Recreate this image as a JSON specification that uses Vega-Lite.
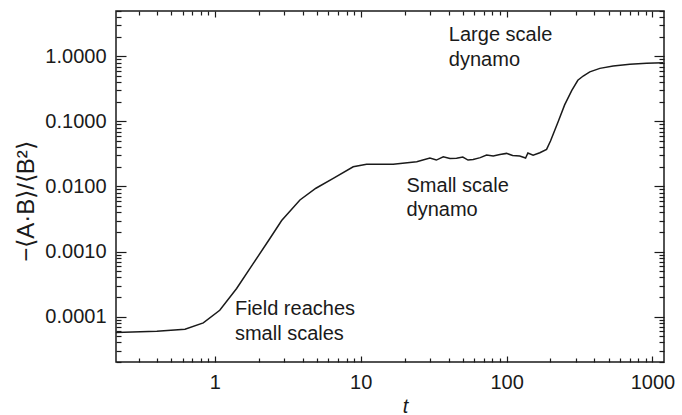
{
  "$schema": "https://vega.github.io/schema/vega-lite/v6.json",
  "width": 548,
  "height": 351,
  "autosize": {"type": "none"},
  "padding": {"left": 116, "top": 11, "right": 18, "bottom": 53},
  "config": {
    "view": {"stroke": "#1a1a1a", "strokeWidth": 1.5},
    "axis": {
      "labelFont": "Liberation Sans",
      "labelFontSize": 20,
      "labelColor": "#1a1a1a",
      "titleFont": "Liberation Sans",
      "titleFontSize": 20,
      "titleColor": "#1a1a1a",
      "titleFontWeight": "normal"
    }
  },
  "datasets": {
    "curve": [
      {"t": 0.21, "v": 0.000057},
      {"t": 0.4, "v": 0.0000596},
      {"t": 0.624, "v": 0.000064},
      {"t": 0.833, "v": 0.00008},
      {"t": 1.08, "v": 0.000125},
      {"t": 1.41, "v": 0.00027},
      {"t": 1.83, "v": 0.00065},
      {"t": 2.39, "v": 0.0016},
      {"t": 2.87, "v": 0.003},
      {"t": 3.83, "v": 0.0062},
      {"t": 4.93, "v": 0.0094},
      {"t": 6.48, "v": 0.0133},
      {"t": 8.88, "v": 0.0201},
      {"t": 10.97, "v": 0.0219},
      {"t": 16.7, "v": 0.0219},
      {"t": 24.2, "v": 0.024},
      {"t": 29.8, "v": 0.0274},
      {"t": 33, "v": 0.0255},
      {"t": 36.8, "v": 0.0286},
      {"t": 40.9, "v": 0.0269},
      {"t": 45.4, "v": 0.0271},
      {"t": 50.1, "v": 0.0283},
      {"t": 54.4, "v": 0.0255},
      {"t": 59, "v": 0.0261},
      {"t": 66, "v": 0.0278},
      {"t": 72.9, "v": 0.0304},
      {"t": 81, "v": 0.0294},
      {"t": 90, "v": 0.031},
      {"t": 100, "v": 0.0323},
      {"t": 110, "v": 0.0299},
      {"t": 123, "v": 0.0294},
      {"t": 135, "v": 0.0274},
      {"t": 140, "v": 0.0327},
      {"t": 152, "v": 0.0304},
      {"t": 169, "v": 0.033},
      {"t": 188, "v": 0.0372},
      {"t": 200, "v": 0.05},
      {"t": 226, "v": 0.1},
      {"t": 250, "v": 0.18},
      {"t": 280, "v": 0.3},
      {"t": 308, "v": 0.43},
      {"t": 335, "v": 0.5},
      {"t": 372, "v": 0.58},
      {"t": 436, "v": 0.656},
      {"t": 538, "v": 0.711},
      {"t": 700, "v": 0.756},
      {"t": 911, "v": 0.783},
      {"t": 1184, "v": 0.8}
    ],
    "notes": [
      {"t": 40.2, "v": 1.7, "lines": ["Large scale", "dynamo"]},
      {"t": 20.6, "v": 0.00829, "lines": ["Small scale", "dynamo"]},
      {"t": 1.373, "v": 0.000105, "lines": ["Field reaches", "small scales"]}
    ]
  },
  "resolve": {"axis": {"x": "independent", "y": "independent"}},
  "layer": [
    {
      "data": {"name": "curve"},
      "mark": {"type": "line", "stroke": "#1a1a1a", "strokeWidth": 1.5, "interpolate": "linear"},
      "encoding": {
        "x": {
          "field": "t", "type": "quantitative",
          "scale": {"type": "log", "domain": [0.21, 1200], "nice": false},
          "axis": {
            "orient": "bottom",
            "values": [0.3, 0.4, 0.5, 0.6, 0.7, 0.8, 0.9, 1, 2, 3, 4, 5, 6, 7, 8, 9, 10, 20, 30, 40, 50, 60, 70, 80, 90, 100, 200, 300, 400, 500, 600, 700, 800, 900, 1000],
            "labelExpr": "abs(log(datum.value)/LN10 - round(log(datum.value)/LN10)) < 1e-6 ? format(datum.value, 'd') : ''",
            "grid": false, "domain": false,
            "tickColor": "#1a1a1a", "tickWidth": 1.2, "tickSize": -6,
            "tickDash": {"condition": {"test": "abs(log(datum.value)/LN10 - round(log(datum.value)/LN10)) > 1e-6", "value": [4, 20]}, "value": [20, 0]},
            "labelPadding": 16,
            "title": "t", "titleFontStyle": "italic",
            "titleX": 289, "titleY": 50, "titleBaseline": "alphabetic", "titleAlign": "center"
          }
        },
        "y": {
          "field": "v", "type": "quantitative",
          "scale": {"type": "log", "domain": [0.00002, 5], "nice": false},
          "axis": {
            "orient": "left",
            "values": [0.00002, 0.00003, 0.00004, 0.00005, 0.00006, 0.00007, 0.00008, 0.00009, 0.0001, 0.0002, 0.0003, 0.0004, 0.0005, 0.0006, 0.0007, 0.0008, 0.0009, 0.001, 0.002, 0.003, 0.004, 0.005, 0.006, 0.007, 0.008, 0.009, 0.01, 0.02, 0.03, 0.04, 0.05, 0.06, 0.07, 0.08, 0.09, 0.1, 0.2, 0.3, 0.4, 0.5, 0.6, 0.7, 0.8, 0.9, 1, 2, 3, 4, 5],
            "labelExpr": "abs(log(datum.value)/LN10 - round(log(datum.value)/LN10)) < 1e-6 ? format(datum.value, '.4f') : ''",
            "grid": false, "domain": false,
            "tickColor": "#1a1a1a", "tickWidth": 1.2, "tickSize": -10,
            "tickDash": {"condition": {"test": "abs(log(datum.value)/LN10 - round(log(datum.value)/LN10)) > 1e-6", "value": [5, 20]}, "value": [20, 0]},
            "labelPadding": 20,
            "title": "−⟨A·B⟩/⟨B²⟩", "titleFontSize": 24,
            "titleX": -90, "titleY": 190, "titleAngle": 270,
            "titleAlign": "center", "titleBaseline": "middle"
          }
        }
      }
    },
    {
      "data": {"name": "curve"},
      "mark": {"type": "line", "strokeOpacity": 0},
      "encoding": {
        "x": {
          "field": "t", "type": "quantitative",
          "scale": {"type": "log", "domain": [0.21, 1200], "nice": false},
          "axis": {
            "orient": "top",
            "values": [0.3, 0.4, 0.5, 0.6, 0.7, 0.8, 0.9, 1, 2, 3, 4, 5, 6, 7, 8, 9, 10, 20, 30, 40, 50, 60, 70, 80, 90, 100, 200, 300, 400, 500, 600, 700, 800, 900, 1000],
            "labels": false, "grid": false, "domain": false,
            "tickColor": "#1a1a1a", "tickWidth": 1.2, "tickSize": -6,
            "tickDash": {"condition": {"test": "abs(log(datum.value)/LN10 - round(log(datum.value)/LN10)) > 1e-6", "value": [4, 20]}, "value": [20, 0]},
            "title": null
          }
        },
        "y": {
          "field": "v", "type": "quantitative",
          "scale": {"type": "log", "domain": [0.00002, 5], "nice": false},
          "axis": {
            "orient": "right",
            "values": [0.00002, 0.00003, 0.00004, 0.00005, 0.00006, 0.00007, 0.00008, 0.00009, 0.0001, 0.0002, 0.0003, 0.0004, 0.0005, 0.0006, 0.0007, 0.0008, 0.0009, 0.001, 0.002, 0.003, 0.004, 0.005, 0.006, 0.007, 0.008, 0.009, 0.01, 0.02, 0.03, 0.04, 0.05, 0.06, 0.07, 0.08, 0.09, 0.1, 0.2, 0.3, 0.4, 0.5, 0.6, 0.7, 0.8, 0.9, 1, 2, 3, 4, 5],
            "labels": false, "grid": false, "domain": false,
            "tickColor": "#1a1a1a", "tickWidth": 1.2, "tickSize": -10,
            "tickDash": {"condition": {"test": "abs(log(datum.value)/LN10 - round(log(datum.value)/LN10)) > 1e-6", "value": [5, 20]}, "value": [20, 0]},
            "title": null
          }
        }
      }
    },
    {
      "data": {"name": "notes"},
      "mark": {"type": "text", "align": "left", "baseline": "alphabetic", "fontSize": 20, "lineHeight": 24.5, "color": "#1a1a1a", "font": "Liberation Sans"},
      "encoding": {
        "x": {
          "field": "t", "type": "quantitative",
          "scale": {"type": "log", "domain": [0.21, 1200], "nice": false},
          "axis": null
        },
        "y": {
          "field": "v", "type": "quantitative",
          "scale": {"type": "log", "domain": [0.00002, 5], "nice": false},
          "axis": null
        },
        "text": {"field": "lines"}
      }
    }
  ]
}
